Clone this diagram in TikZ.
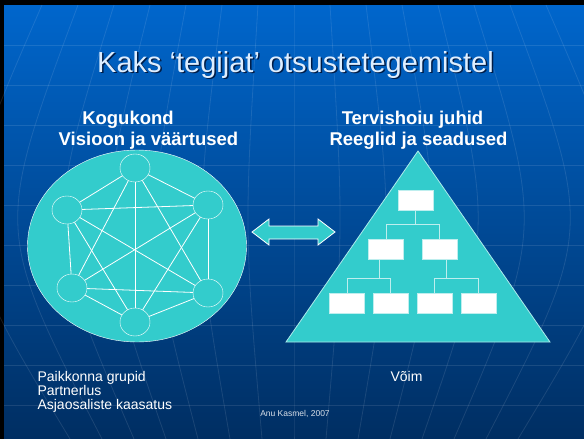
\documentclass[tikz,border=0pt]{standalone}
\usepackage{fontspec}
\setmainfont{Liberation Sans}
\usetikzlibrary{shapes.geometric}
\definecolor{slidetop}{RGB}{0,102,204}
\definecolor{slidebot}{RGB}{0,46,98}
\definecolor{tealfill}{RGB}{51,204,204}
\definecolor{titletext}{RGB}{222,238,255}
\definecolor{titleshade}{RGB}{0,28,70}
\definecolor{treeline}{RGB}{190,238,238}

\begin{document}
\begin{tikzpicture}[x=1pt,y=-1pt,
  member/.style={ellipse,draw=white,fill=tealfill,minimum width=30pt,minimum height=28pt,inner sep=0pt},
  post/.style={rectangle,draw=treeline,fill=white,minimum width=35pt,minimum height=20pt,inner sep=0pt},
  link/.style={draw=white,line width=0.8pt},
  tree/.style={draw=treeline,line width=1pt},
  grid/.style={draw=white,opacity=0.1,line width=0.8pt},
  head/.style={anchor=base,text=white,font=\bfseries\fontsize{18.5}{20}\selectfont},
  note/.style={anchor=base west,text=white,font=\fontsize{14}{16}\selectfont}]
\useasboundingbox (0,0) rectangle (584,439);
\fill[black] (0,0) rectangle (584,439);
\shade[top color=slidetop,bottom color=slidebot] (4,5) rectangle (584,439);
\foreach \y in {45,85,...,405}
  \draw[grid] (4,\y) -- (584,\y);
\foreach \k in {-7,...,7}
  \draw[grid] ({294+36*\k},5) .. controls ({294+50*\k},230) .. ({294+32*\k},439);

\node[anchor=base,text=titleshade,font=\fontsize{29}{32}\selectfont] at (297,73.5) {Kaks ‘tegijat’ otsustetegemistel};
\node[anchor=base,text=titletext,font=\fontsize{29}{32}\selectfont] (title) at (295.5,72) {Kaks ‘tegijat’ otsustetegemistel};

\node[head] (kogu) at (128,124) {Kogukond};
\node[head] (visioon) at (148.5,145) {Visioon ja väärtused};
\node[head] (tervis) at (412.5,124) {Tervishoiu juhid};
\node[head] (reeglid) at (418.5,145) {Reeglid ja seadused};

\node[ellipse,draw=white,fill=tealfill,minimum width=219pt,minimum height=192pt] (community) at (137,246) {};
\node[member] (p1) at (135,168) {};
\node[member] (p2) at (208,205) {};
\node[member] (p3) at (208,293) {};
\node[member] (p4) at (135,322) {};
\node[member] (p5) at (72,288) {};
\node[member] (p6) at (67,210) {};
\foreach \a/\b in {p1/p2,p1/p3,p1/p4,p1/p5,p1/p6,p2/p3,p2/p4,p2/p5,p2/p6,p3/p4,p3/p5,p3/p6,p4/p5,p4/p6,p5/p6}
  \path (\a) edge[link] (\b);

\draw[draw=white,fill=tealfill,line width=0.8pt] (252,232) -- (269,219) -- (269,226) -- (318,226) -- (318,219) -- (335,232) -- (318,245) -- (318,239) -- (269,239) -- (269,245) -- cycle;

\draw[draw=white!60!tealfill,fill=tealfill,line width=0.8pt] (418,151) -- (550,342) -- (286,342) -- cycle;
\node[post] (chief) at (415.5,200.5) {};
\node[post] (lead1) at (386,249) {};
\node[post] (lead2) at (439.5,249) {};
\node[post] (staff1) at (347,303) {};
\node[post] (staff2) at (390.5,303) {};
\node[post] (staff3) at (434.5,303) {};
\node[post] (staff4) at (478.5,303) {};
\draw[tree] (chief.south) -- ++(0,13.5) coordinate (bus) -| (lead1.north);
\draw[tree] (bus) -| (lead2.north);
\draw[tree] ([xshift=-7pt]lead1.south) -- ++(0,19) coordinate (busl) -| (staff1.north);
\draw[tree] (busl) -| (staff2.north);
\draw[tree] ([xshift=7pt]lead2.south) -- ++(0,19) coordinate (busr) -| (staff4.north);
\draw[tree] (busr) -| (staff3.north);

\node[note] (paik) at (34,381) {Paikkonna grupid};
\node[note] (partner) at (34,395) {Partnerlus};
\node[note] (asja) at (34,409) {Asjaosaliste kaasatus};
\node[note] (voim) at (387,381) {Võim};
\node[anchor=base,text=white!85!slidebot,font=\fontsize{8.5}{10}\selectfont] (autor) at (295,416) {Anu Kasmel, 2007};
\end{tikzpicture}
\end{document}
